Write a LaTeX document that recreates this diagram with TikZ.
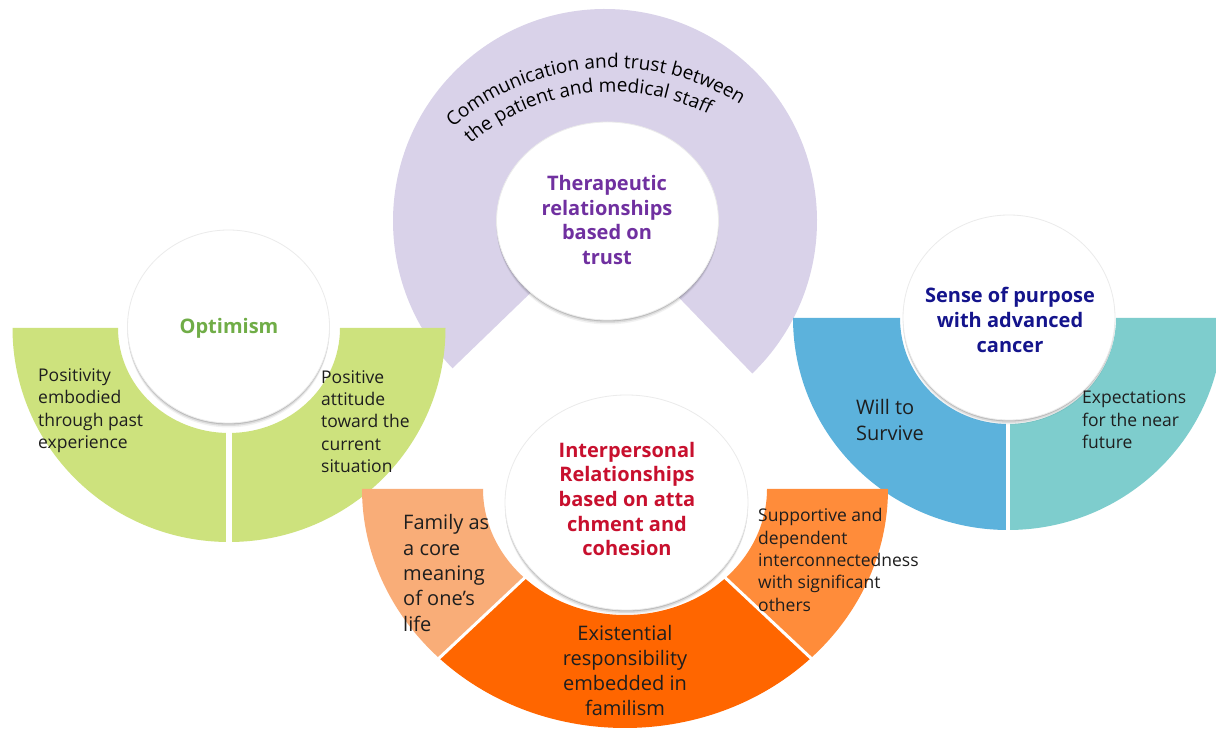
\documentclass[tikz,border=0pt]{standalone}
\usepackage{fontspec}
\setmainfont{Open Sans}
\usetikzlibrary{shapes.geometric,shadows,decorations.text}

\definecolor{lavender}{RGB}{217,210,233}
\definecolor{limegreen}{RGB}{205,226,125}
\definecolor{skyblue}{RGB}{92,178,220}
\definecolor{seablue}{RGB}{126,205,205}
\definecolor{peach}{RGB}{249,173,120}
\definecolor{deeporange}{RGB}{255,102,0}
\definecolor{midorange}{RGB}{255,140,58}
\definecolor{headpurple}{RGB}{112,48,160}
\definecolor{headgreen}{RGB}{112,173,71}
\definecolor{headnavy}{RGB}{20,20,140}
\definecolor{headred}{RGB}{200,16,46}
\definecolor{ink}{RGB}{30,30,30}

\begin{document}
\begin{tikzpicture}[x=1pt,y=1pt,
  disc/.style={ellipse, inner sep=0pt, fill=white, draw=black!8, line width=0.8pt,
    general shadow={fill=black, opacity=.05, shadow yshift=-4.5pt},
    general shadow={fill=black, opacity=.09, shadow yshift=-3pt},
    general shadow={fill=black, opacity=.14, shadow yshift=-1.5pt}},
  headline/.style={font=\fontsize{20}{24.6}\selectfont\bfseries, align=center, inner sep=0pt},
  body/.style={font=\fontsize{17.5}{22.4}\selectfont, align=left, inner sep=0pt, text=ink, anchor=west},
  bigbody/.style={body, font=\fontsize{20}{25.3}\selectfont},
  seam/.style={draw=white, line width=#1},
  arctext/.style={decorate, decoration={text along path, text align=center,
    text={|\fontsize{19}{23}\selectfont|#1}}}
]
\clip (0,0) rectangle (1216,731);
\fill[white] (0,0) rectangle (1216,731);

% ---- therapeutic relationships (lavender ring, open at the bottom)
\fill[lavender] (605,510) -- ++(-46:212) arc[start angle=-46, end angle=224, radius=212] -- cycle;
\node[disc, minimum width=222pt, minimum height=198pt] (trustdisc) at (607.5,510) {};
\node[headline, text=headpurple] (trusttitle) at (607,511) {Therapeutic\\relationships\\based on\\trust};
\path[arctext={Communication and trust between}]
  ([shift={(134:243)}]612,420) arc[start angle=134, end angle=55, radius=243];
\path[arctext={the patient and medical staff}]
  ([shift={(135:219)}]612,420) arc[start angle=135, end angle=59, radius=219];

% ---- optimism (green half ring)
\fill[limegreen] (12.5,403) arc[start angle=180, end angle=360, x radius=216.5, y radius=214]
  -- (340,403) arc[start angle=0, end angle=-180, x radius=111, y radius=105] -- cycle;
\draw[seam=6pt] (229,300) -- (229,185);
\node[disc, minimum width=202pt, minimum height=193pt] (optdisc) at (228.5,404.5) {};
\node[headline, text=headgreen] (opttitle) at (229,403) {Optimism};
\node[body] (pastexp) at (38,320.5) {Positivity\\embodied\\through past\\experience};
\node[body] (attitude) at (321,309.5) {Positive\\attitude\\toward the\\current\\situation};

% ---- sense of purpose (blue half ring)
\fill[skyblue] (793,413) arc[start angle=180, end angle=270, x radius=215, y radius=212]
  -- (1008,307) arc[start angle=270, end angle=180, x radius=108, y radius=106] -- cycle;
\fill[seablue] (1008,201) arc[start angle=270, end angle=360, x radius=215, y radius=212]
  -- (1116,413) arc[start angle=0, end angle=-90, x radius=108, y radius=106] -- cycle;
\draw[seam=4pt] (1008,310) -- (1008,195);
\node[disc, minimum width=212pt, minimum height=205pt] (purposedisc) at (1009,413.5) {};
\node[headline, text=headnavy] (purposetitle) at (1010,411) {Sense of purpose\\with advanced\\cancer};
\node[bigbody] (survive) at (856,311) {Will to\\Survive};
\node[body] (nearfuture) at (1082,311) {Expectations\\for the near\\future};

% ---- interpersonal relationships (orange half ring in three parts)
\fill[peach] (362,242) arc[start angle=180, end angle=225, x radius=263, y radius=239]
  -- ([shift={(225:142 and 126)}]625,242) arc[start angle=225, end angle=180, x radius=142, y radius=126] -- cycle;
\fill[deeporange] ([shift={(225:263 and 239)}]625,242) arc[start angle=225, end angle=315, x radius=263, y radius=239]
  -- ([shift={(315:142 and 126)}]625,242) arc[start angle=315, end angle=225, x radius=142, y radius=126] -- cycle;
\fill[midorange] ([shift={(315:263 and 239)}]625,242) arc[start angle=315, end angle=360, x radius=263, y radius=239]
  -- (767,242) arc[start angle=0, end angle=-45, x radius=142, y radius=126] -- cycle;
\draw[seam=3pt] ([shift={(225:138 and 122)}]625,242) -- ([shift={(225:268 and 244)}]625,242);
\draw[seam=3pt] ([shift={(315:138 and 122)}]625,242) -- ([shift={(315:268 and 244)}]625,242);
\node[disc, minimum width=243pt, minimum height=215pt] (bonddisc) at (626.5,228.5) {};
\node[headline, text=headred] (bondtitle) at (627,232) {Interpersonal\\Relationships\\based on atta\\chment and\\cohesion};
\node[bigbody] (corefamily) at (403,158) {Family as\\a core\\meaning\\of one’s\\life};
\node[bigbody, align=center, anchor=center] (familism) at (625,60.5) {Existential\\responsibility\\embedded in\\familism};
\node[body] (interconnect) at (758,171) {Supportive and\\dependent\\interconnectedness\\with significant\\others};
\end{tikzpicture}
\end{document}
